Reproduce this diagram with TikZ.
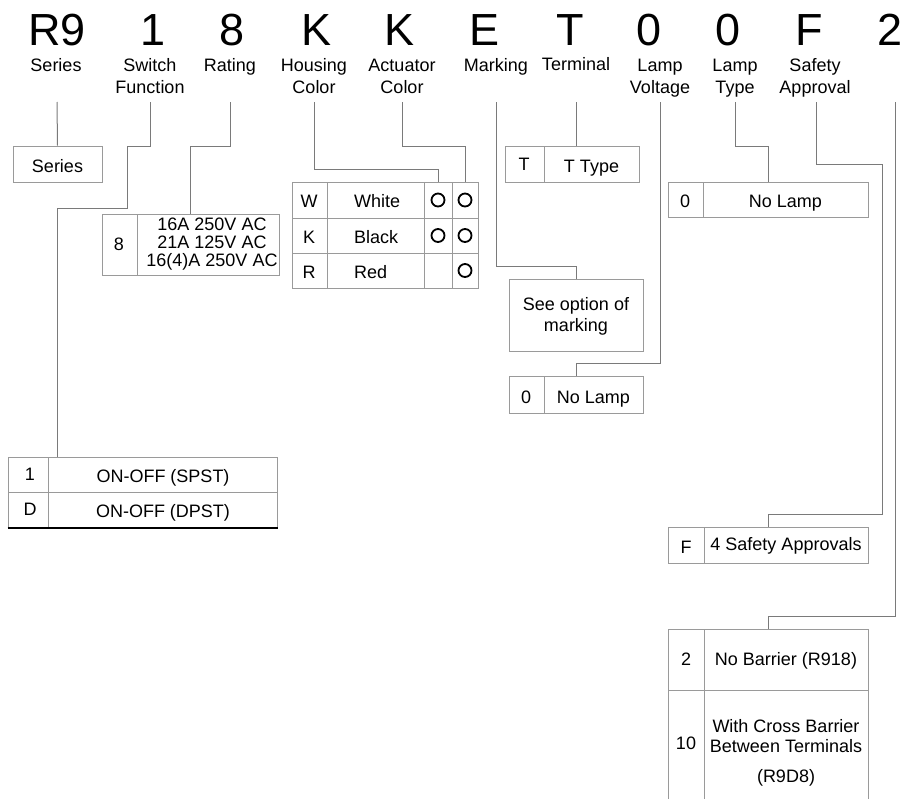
\documentclass[tikz,border=0pt]{standalone}
\usepackage{fontspec}
\setmainfont{Liberation Sans}
\definecolor{wiregray}{HTML}{7A7A7A}
\definecolor{cellgray}{HTML}{9A9A9A}
\tikzset{
  code/.style={font=\fontsize{45}{45}\selectfont, anchor=base, inner sep=0},
  field/.style={font=\fontsize{18}{22}\selectfont, align=center, anchor=base, inner sep=0},
  wire/.style={draw=wiregray, line width=1pt},
  cell/.style={draw=cellgray, line width=1pt, inner sep=0},
  cellline/.style={draw=cellgray, line width=1pt},
  txt/.style={font=\fontsize{18}{20}\selectfont, align=center, anchor=base, inner sep=0},
  dot/.style={circle, draw=black, line width=1.8pt, minimum size=13, inner sep=0},
}
\begin{document}
\begin{tikzpicture}[x=1pt, y=-1pt]
\useasboundingbox (0,0) rectangle (904,798);
% part number
\node[code] (c1) at (57,45) {R9};
\node[code] (c2) at (153,45) {1};
\node[code] (c3) at (232,45) {8};
\node[code] (c4) at (317,45) {K};
\node[code] (c5) at (400,45) {K};
\node[code] (c6) at (484,45) {E};
\node[code] (c7) at (570,45) {T};
\node[code] (c8) at (649,45) {0};
\node[code] (c9) at (728,45) {0};
\node[code] (c10) at (809,45) {F};
\node[code] (c11) at (890,45) {2};
% field names (base = last line)
\node[field] (f1) at (56,71) {Series};
\node[field] (f2) at (150,93) {Switch\\Function};
\node[field] (f3) at (230,71) {Rating};
\node[field] (f4) at (314,93) {Housing\\Color};
\node[field] (f5) at (402,93) {Actuator\\Color};
\node[field] (f6) at (496,71) {Marking};
\node[field] (f7) at (576,70) {Terminal};
\node[field] (f8) at (660,93) {Lamp\\Voltage};
\node[field] (f9) at (735,93) {Lamp\\Type};
\node[field] (f10) at (815,93) {Safety\\Approval};
% wire starts
\coordinate (s1) at (57,102);
\coordinate (s2) at (150,102);
\coordinate (s3) at (230,102);
\coordinate (s4) at (314,102);
\coordinate (s5) at (402,102);
\coordinate (s6) at (496,102);
\coordinate (s7) at (576,102);
\coordinate (s8) at (660,102);
\coordinate (s9) at (735,102);
\coordinate (s10) at (816,102);
\coordinate (s11) at (895,102);

% series
\node[cell, minimum width=89, minimum height=36] (b1) at (57.5,164) {};
\node[txt] (b1-t) at (57.5,172) {Series};

% rating
\node[cell, minimum width=177, minimum height=61] (b3) at (190.5,244.5) {};
\draw[cellline] (137,214) -- (137,275);
\node[txt] (b3-k) at (119,250) {8};
\node[txt, font=\fontsize{18}{18}\selectfont] (b3-t) at (212,266) {16A 250V AC\\21A 125V AC\\16(4)A 250V AC};

% colours
\node[cell, minimum width=186, minimum height=106] (b4) at (385,235) {};
\draw[cellline] (292,218) -- (478,218);
\draw[cellline] (292,253) -- (478,253);
\foreach \x in {327,424,452} \draw[cellline] (\x,182) -- (\x,288);
\node[txt] (b4-k1) at (309,207) {W};
\node[txt] (b4-k2) at (309,243) {K};
\node[txt] (b4-k3) at (309,278) {R};
\node[txt, anchor=base west] (b4-t1) at (354,207) {White};
\node[txt, anchor=base west] (b4-t2) at (354,243) {Black};
\node[txt, anchor=base west] (b4-t3) at (354,278) {Red};
\node[dot] (hw) at (438,200) {};
\node[dot] (aw) at (465,200) {};
\node[dot] (hk) at (438,235.5) {};
\node[dot] (ak) at (465,235.5) {};
\node[dot] (ar) at (465,270.5) {};

% marking
\node[cell, minimum width=134, minimum height=72] (b6) at (576,315) {};
\node[txt, font=\fontsize{18}{21}\selectfont] (b6-t) at (576,331) {See option of\\marking};

% terminal
\node[cell, minimum width=134, minimum height=36] (b7) at (572,164) {};
\draw[cellline] (544,146) -- (544,182);
\node[txt] (b7-k) at (524,170) {T};
\node[txt] (b7-t) at (591.5,172) {T Type};

% lamp voltage
\node[cell, minimum width=134, minimum height=37] (b8) at (576,394.5) {};
\draw[cellline] (544,376) -- (544,413);
\node[txt] (b8-k) at (526,403) {0};
\node[txt] (b8-t) at (593.5,403) {No Lamp};

% lamp type
\node[cell, minimum width=200, minimum height=35] (b9) at (768,199.5) {};
\draw[cellline] (703,182) -- (703,217);
\node[txt] (b9-k) at (685,207) {0};
\node[txt] (b9-t) at (785.5,207) {No Lamp};

% safety approval
\node[cell, minimum width=200, minimum height=36] (b10) at (768,545) {};
\draw[cellline] (704,527) -- (704,563);
\node[txt] (b10-k) at (686,553) {F};
\node[txt] (b10-t) at (786,550) {4 Safety Approvals};

% terminal barrier
\coordinate (b11) at (768,629);
\draw[cellline] (668,805) |- (868,629) -- (868,805);
\draw[cellline] (668,690) -- (868,690);
\draw[cellline] (704,629) -- (704,805);
\node[txt] (b11-k1) at (686,665) {2};
\node[txt] (b11-t1) at (786,665) {No Barrier (R918)};
\node[txt] (b11-k2) at (686,749) {10};
\node[txt] (b11-t2) at (786,752) {With Cross Barrier\\Between Terminals};
\node[txt] (b11-t3) at (786,782) {(R9D8)};

% switch function
\node[cell, minimum width=269, minimum height=70] (b2) at (142.5,492) {};
\draw[cellline] (8,492) -- (277,492);
\draw[cellline] (48,457) -- (48,527);
\draw[line width=2pt] (b2.south west) -- (b2.south east);
\node[txt] (b2-k1) at (30,480) {1};
\node[txt] (b2-t1) at (163,482) {ON-OFF (SPST)};
\node[txt] (b2-k2) at (30,515) {D};
\node[txt] (b2-t2) at (163,517) {ON-OFF (DPST)};

% wires
\draw[wire] (s1) to (b1.north);
\draw[wire] (s2) -- ++(0,44) -| ++(-23,62) -| ([xshift=-85.5pt]b2.north);
\draw[wire] (s3) -- ++(0,44) -| (b3.north);
\draw[wire] (s4) -- ++(0,67) -| (b4.north -| hw);
\draw[wire] (s5) -- ++(0,44) -| (b4.north -| aw);
\draw[wire] (s6) -- ++(0,164) -| (b6.north);
\draw[wire] (s7) to (s7 |- b7.north);
\draw[wire] (s8) -- ++(0,261) -| (b8.north);
\draw[wire] (s9) -- ++(0,44) -| (b9.north);
\draw[wire] (s10) -- ++(0,62) -| ++(66,350) -| (b10.north);
\draw[wire] (s11) -- ++(0,514) -| (b11);
\end{tikzpicture}
\end{document}
